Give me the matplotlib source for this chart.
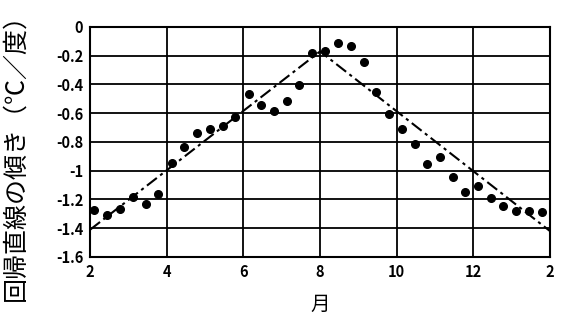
import matplotlib
matplotlib.use("Agg")
import matplotlib.pyplot as plt

plt.rcParams['font.family'] = ['Noto Sans CJK JP', 'DejaVu Sans']

# 旬ごとの回帰直線の傾き
months = [2.10, 2.45, 2.77, 3.11, 3.46, 3.78, 4.14, 4.46, 4.78, 5.13, 5.46, 5.78,
          6.14, 6.46, 6.80, 7.13, 7.46, 7.80, 8.13, 8.48, 8.80, 9.15, 9.46, 9.79,
          10.14, 10.47, 10.78, 11.13, 11.46, 11.79, 12.12, 12.45, 12.77, 13.12, 13.45, 13.79]
slopes = [-1.273, -1.306, -1.266, -1.185, -1.234, -1.162, -0.946, -0.833, -0.735, -0.710, -0.689, -0.624,
          -0.466, -0.543, -0.584, -0.515, -0.406, -0.183, -0.165, -0.113, -0.130, -0.241, -0.452, -0.607,
          -0.707, -0.816, -0.951, -0.904, -1.041, -1.150, -1.104, -1.187, -1.243, -1.278, -1.278, -1.287]

# 折れ線（目安）
trend_x = [2, 8, 14]
trend_y = [-1.41, -0.17, -1.42]

xticks = [2, 4, 6, 8, 10, 12, 14]
xticklabels = ['2', '4', '6', '8', '10', '12', '2']
yticks = [0, -0.2, -0.4, -0.6, -0.8, -1, -1.2, -1.4, -1.6]
yticklabels = ['0', '-0.2', '-0.4', '-0.6', '-0.8', '-1', '-1.2', '-1.4', '-1.6']

fig = plt.figure(figsize=(5.67, 3.29), dpi=100)
ax = fig.add_axes([0.159, 0.219, 0.811, 0.699])

ax.plot(trend_x, trend_y, color='black', linestyle=(0, (6, 2, 1.5, 2)), linewidth=1.5)
ax.plot(months, slopes, 'o', color='black', markersize=5.5)

ax.set_xlim(2, 14)
ax.set_ylim(-1.6, 0)
ax.set_xticks(xticks)
ax.set_xticklabels(xticklabels, fontsize=10.5, fontweight='bold')
ax.set_yticks(yticks)
ax.set_yticklabels(yticklabels, fontsize=10.5, fontweight='bold')
ax.tick_params(length=0, pad=5)
ax.grid(True, color='black', linewidth=1.3)
for s in ax.spines.values():
    s.set_linewidth(1.5)

ax.set_xlabel('月', fontsize=14, labelpad=10)
ax.set_ylabel('回帰直線の傾き（℃／度）', fontsize=18, labelpad=8)
ax.yaxis.set_label_coords(-0.135, 0.46)

fig.savefig('out.png', dpi=100)
